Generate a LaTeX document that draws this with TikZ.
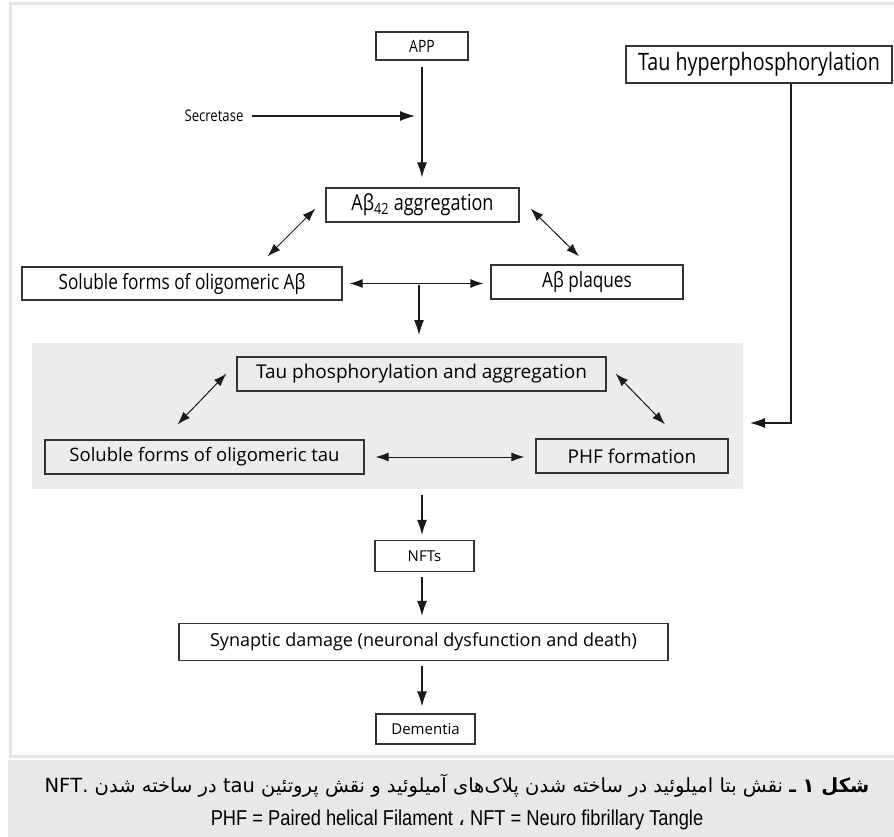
\documentclass[tikz,border=0pt]{standalone}
\usepackage{xcolor}
\usepackage{fontspec}
\usepackage{tikz}
\usetikzlibrary{arrows.meta}
\setmainfont{Open Sans}
\newfontfamily\condfont[FakeStretch=0.82]{Open Sans}
\newfontfamily\capfont[FakeStretch=0.85]{Liberation Sans}
\newfontfamily\arabicfont[Script=Arabic]{DejaVu Sans}
\TeXXeTstate=1

\begin{document}
\begin{tikzpicture}[x=1pt,y=-1pt,
  box/.style={draw=linegray, line width=1.2pt, inner sep=0pt},
  topfont/.style={font=\condfont\fontsize{#1}{#1}\selectfont},
  lowfont/.style={font=\fontsize{#1}{#1}\selectfont},
  arr/.style={-{Latex[length=15pt,width=10pt]}, line width=1.1pt, draw=arrowgray},
  darr/.style={{Latex[length=13pt,width=9pt]}-{Latex[length=13pt,width=9pt]}, line width=1pt, draw=arrowgray}]
  % Define colors
  \definecolor{linegray}{HTML}{333333}
  \definecolor{arrowgray}{HTML}{1A1A1A}
  \definecolor{framegray}{HTML}{E6E6E6}
  \definecolor{panelgray}{HTML}{EBECEC}
  \definecolor{bandgray}{HTML}{E7E8E8}

  \useasboundingbox (0,0) rectangle (894,837);

  % Frame, tau panel and caption band
  \draw[framegray, line width=3pt] (900,4) -- (10,4) -- (10,756) -- (900,756);
  \fill[panelgray] (32,343) rectangle (743,489);
  \fill[bandgray] (8,760) rectangle (894,837);

  % Amyloid part
  \node[box, topfont=17, minimum width=92pt, minimum height=28pt] (app) at (422,46) {APP};
  \node[topfont=16] (secretase) at (214,116) {Secretase};
  \node[box, topfont=22, minimum width=193pt, minimum height=34pt] (abagg) at (422.5,205) {Aβ\textsubscript{42} aggregation};
  \node[box, topfont=21, minimum width=320pt, minimum height=33pt] (solab) at (182,283.5) {Soluble forms of oligomeric Aβ};
  \node[box, topfont=21, minimum width=192pt, minimum height=34pt] (plaques) at (587,282) {Aβ plaques};
  \node[box, topfont=24, minimum width=266pt, minimum height=37pt] (tauhyper) at (759,64.5) {Tau hyperphosphorylation};

  % Tau part
  \node[box, lowfont=19, minimum width=369pt, minimum height=34pt] (tauphos) at (421.5,374) {Tau phosphorylation and aggregation};
  \node[box, lowfont=18.5, minimum width=319pt, minimum height=34pt] (soltau) at (204.5,457) {Soluble forms of oligomeric tau};
  \node[box, lowfont=19, minimum width=192pt, minimum height=34pt] (phf) at (632,456) {PHF formation};
  \node[box, lowfont=15, minimum width=99pt, minimum height=31pt] (nfts) at (424.5,556) {NFTs};
  \node[box, lowfont=18, minimum width=489pt, minimum height=37pt] (synaptic) at (423.5,642) {Synaptic damage (neuronal dysfunction and death)};
  \node[box, lowfont=15, minimum width=99pt, minimum height=30pt] (dementia) at (425.5,729) {Dementia};

  % Connectors
  \coordinate (cleave) at (415,116);
  \coordinate (junction) at (419,285);
  \coordinate (paneltop) at (419,335);
  \coordinate (panelside) at (750,423);
  \coordinate (panelbot) at (422,495);
  \draw[arr] ([xshift=5pt]secretase.east) -- (cleave);
  \draw[arr, shorten <=6pt, shorten >=10pt] (app.south) -- (app.south |- abagg.north);
  \draw[darr] ([shift={(-10,-14)}]abagg.south west) -- ([shift={(-75,-10)}]solab.north east);
  \draw[darr] ([shift={(11,-14)}]abagg.south east) -- ([shift={(-8,-8)}]plaques.north);
  \draw[darr, shorten <=7pt, shorten >=7pt] (solab.east) -- (solab.east -| plaques.west);
  \draw[arr] (junction) -- (paneltop);
  \draw[arr] ([xshift=32pt]tauhyper.south) |- (panelside);
  \draw[darr] ([shift={(-10,-18)}]tauphos.south west) -- ([shift={(-27,-15)}]soltau.north);
  \draw[darr] ([shift={(9,-18)}]tauphos.south east) -- ([shift={(33,-14)}]phf.north);
  \draw[darr, shorten <=11pt, shorten >=11pt] (soltau.east) -- (soltau.east -| phf.west);
  \draw[arr, shorten >=5pt] (panelbot) -- (panelbot |- nfts.north);
  \draw[arr, shorten <=5pt, shorten >=7pt] (nfts.south -| panelbot) -- (panelbot |- synaptic.north);
  \draw[arr, shorten <=5pt, shorten >=7pt] (synaptic.south -| panelbot) -- (panelbot |- dementia.north);

  % Caption
  \node[font=\arabicfont\fontsize{19.5}{19.5}\selectfont] (captionfa) at (457,786)
    {\beginR{\bfseries شکل ۱ ـ} نقش بتا امیلوئید در ساخته شدن پلاک‌های آمیلوئید و نقش پروتئین \beginL tau\endL{} در ساخته شدن \beginL NFT.\endL\endR};
  \node[font=\capfont\fontsize{21.5}{21.5}\selectfont] (captionen) at (457,820)
    {PHF = Paired helical Filament {\arabicfont ،} NFT = Neuro fibrillary Tangle};

\end{tikzpicture}
\end{document}
